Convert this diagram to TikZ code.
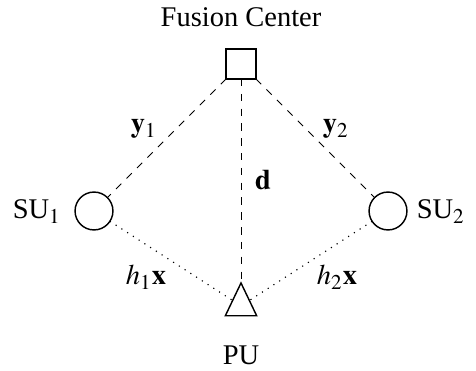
\documentclass[tikz,border=0pt]{standalone}
\usepackage{mathptmx}
\usepackage{fontspec}
\setmainfont{Liberation Serif}
\usetikzlibrary{shapes.geometric}
\begin{document}
\begin{tikzpicture}[x=0.351pt,y=-0.351pt,
  shapebase/.style={draw,line width=0.5pt,inner sep=0pt,outer sep=0pt},
  fcbox/.style={shapebase,rectangle,minimum size=10.5pt},
  subox/.style={shapebase,circle,minimum size=13.3pt},
  pubox/.style={shapebase,isosceles triangle,isosceles triangle stretches,shape border rotate=90,minimum width=11pt,minimum height=11.5pt},
  report/.style={dash pattern=on 2.6pt off 2.6pt,line width=0.35pt},
  sense/.style={dotted,line width=0.4pt},
  txt/.style={anchor=base,inner sep=0pt}]
\useasboundingbox (0,0) rectangle (476,371);
\node[fcbox] (fc) at (241,64) {};
\node[subox] (su1) at (94,211) {};
\node[subox] (su2) at (388,211) {};
\node[pubox,anchor=apex] (pu) at (241,283) {};
\draw[report] (fc) -- (su1);
\draw[report] (fc) -- (su2);
\draw[report] (fc) -- (pu);
\draw[sense] (su1) -- (pu);
\draw[sense] (su2) -- (pu);
\node[txt] (lfc) at (241,27) {Fusion Center};
\node[txt] (lpu) at (241,365) {PU};
\node[txt] (lsu1) at (37,219) {SU$_1$};
\node[txt] (lsu2) at (441,219) {SU$_2$};
\node[txt] (ly1) at (144,133) {$\mathbf{y}_1$};
\node[txt] (ly2) at (336,133) {$\mathbf{y}_2$};
\node[txt] (ld) at (263,190) {$\mathbf{d}$};
\node[txt] (lh1) at (146,285) {$h_1\mathbf{x}$};
\node[txt] (lh2) at (337,285) {$h_2\mathbf{x}$};
\end{tikzpicture}
\end{document}
